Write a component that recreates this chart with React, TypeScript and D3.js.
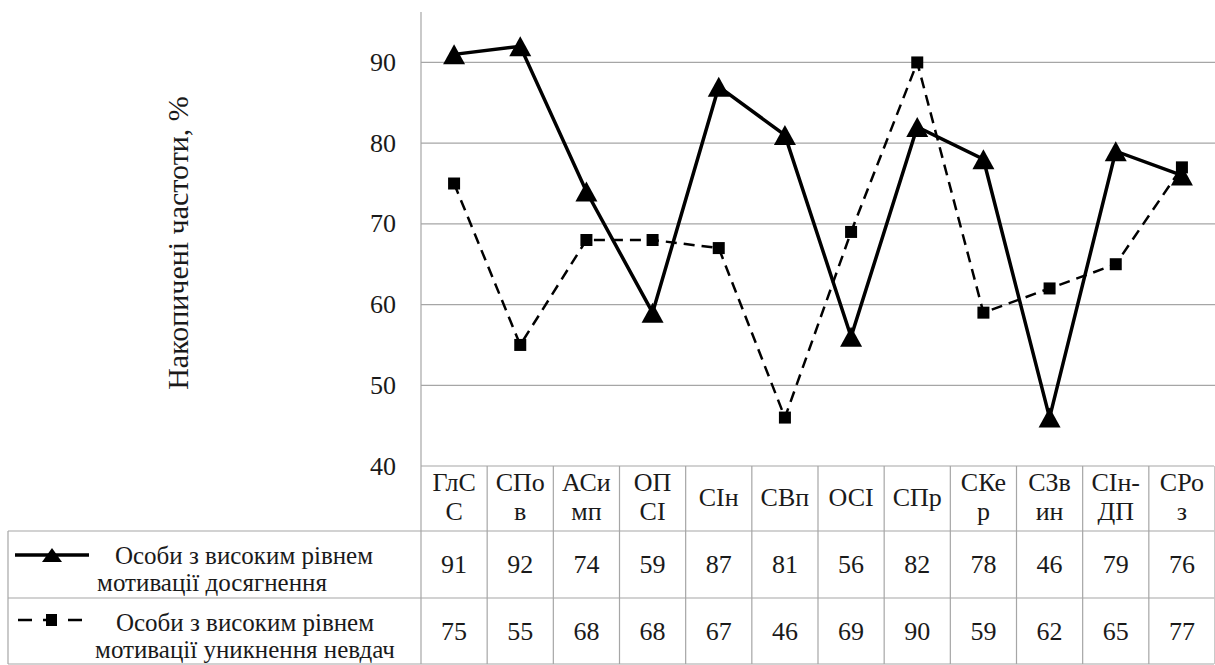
import React from "react";
import * as d3 from "d3";

const categories = ["ГлСС", "СПов", "АСимп", "ОПСІ", "СІн", "СВп", "ОСІ", "СПр", "СКер", "СЗвин", "СІн-ДП", "СРоз"];
const categoryLines = [["ГлС", "С"], ["СПо", "в"], ["АСи", "мп"], ["ОП", "СІ"], ["СІн"], ["СВп"], ["ОСІ"], ["СПр"], ["СКе", "р"], ["СЗв", "ин"], ["СІн-", "ДП"], ["СРо", "з"]];
const achievement = [91, 92, 74, 59, 87, 81, 56, 82, 78, 46, 79, 76];
const avoidance = [75, 55, 68, 68, 67, 46, 69, 90, 59, 62, 65, 77];
const yTicks = [40, 50, 60, 70, 80, 90];
const seriesNames = [
  ["Особи з високим рівнем", "мотивації досягнення"],
  ["Особи з високим рівнем", "мотивації уникнення невдач"],
];
const yTitle = "Накопичені частоти, %";

const W = 1215;
const H = 665;
const GRID = "#a6a6a6";
const TXT = "#1a1a1a";
const SERIF = "Liberation Serif";

function T(props: any) {
  const { size, children, ...rest } = props;
  return (
    <text {...rest} fill={TXT} fontSize={size} style={{ fontFamily: SERIF }}>
      {children}
    </text>
  );
}

export default function App() {
  const x = d3.scaleBand<string>().domain(categories).range([421, 1215]);
  const y = d3.scaleLinear().domain([40, 96.25]).range([466, 12]);
  const cx = (c: string) => (x(c) as number) + x.bandwidth() / 2;

  const line = d3
    .line<number>()
    .x((_, i) => cx(categories[i]))
    .y((d) => y(d));

  const tri = (w: number, h: number) => `M0,${-h / 2}L${w / 2},${h / 2}L${-w / 2},${h / 2}Z`;

  const tableTop = 466;
  const row1 = 531;
  const row2 = 598;
  const bottom = 664;
  const TS = 26;
  const LS = 25;

  return (
    <svg width={W} height={H} style={{ position: "absolute", left: 0, top: 0 }}>
      {yTicks.slice(1).map((t) => (
        <line key={t} x1={421} x2={1215} y1={y(t)} y2={y(t)} stroke={GRID} strokeWidth={1.2} />
      ))}
      <line x1={421} x2={421} y1={y(96.25)} y2={bottom} stroke={GRID} strokeWidth={1.2} />
      {yTicks.map((t) => (
        <T key={t} size={26} x={396} y={y(t) + 8.5} textAnchor="end">
          {t}
        </T>
      ))}
      <T size={30} transform={`translate(188,243) rotate(-90)`} textAnchor="middle">
        {yTitle}
      </T>

      <line x1={421} x2={1214} y1={tableTop} y2={tableTop} stroke={GRID} strokeWidth={1.2} />
      <line x1={8} x2={1214} y1={row1} y2={row1} stroke={GRID} strokeWidth={1.2} />
      <line x1={8} x2={1214} y1={row2} y2={row2} stroke={GRID} strokeWidth={1.2} />
      <line x1={8} x2={1214} y1={bottom} y2={bottom} stroke={GRID} strokeWidth={1.2} />
      <line x1={8} x2={8} y1={row1} y2={bottom} stroke={GRID} strokeWidth={1.2} />
      {categories.map((c) => (
        <line key={c} x1={(x(c) as number) + x.bandwidth()} x2={(x(c) as number) + x.bandwidth()} y1={tableTop} y2={bottom} stroke={GRID} strokeWidth={1.2} />
      ))}

      {categories.map((c, i) => {
        const lines = categoryLines[i];
        return lines.length === 1 ? (
          <T key={c} size={TS} x={cx(c)} y={506} textAnchor="middle">
            {lines[0]}
          </T>
        ) : (
          <g key={c}>
            <T size={TS} x={cx(c)} y={491} textAnchor="middle">
              {lines[0]}
            </T>
            <T size={TS} x={cx(c)} y={520} textAnchor="middle">
              {lines[1]}
            </T>
          </g>
        );
      })}
      {categories.map((c, i) => (
        <g key={c}>
          <T size={TS} x={cx(c)} y={573} textAnchor="middle">
            {achievement[i]}
          </T>
          <T size={TS} x={cx(c)} y={640} textAnchor="middle">
            {avoidance[i]}
          </T>
        </g>
      ))}

      <line x1={15} x2={89} y1={555} y2={555} stroke="#000" strokeWidth={3.5} />
      <path d={tri(20, 14)} transform="translate(52,555)" fill="#000" />
      <line x1={16} x2={88} y1={620} y2={620} stroke="#000" strokeWidth={2.5} strokeDasharray="14,11" strokeDashoffset={-2} />
      <rect x={46} y={614} width={11} height={12} fill="#000" />
      <T size={LS} x={244} y={564} textAnchor="middle">{seriesNames[0][0]}</T>
      <T size={LS} x={212} y={591} textAnchor="middle">{seriesNames[0][1]}</T>
      <T size={LS} x={245} y={631} textAnchor="middle">{seriesNames[1][0]}</T>
      <T size={LS} x={245} y={658} textAnchor="middle">{seriesNames[1][1]}</T>

      <path d={line(avoidance) as string} fill="none" stroke="#000" strokeWidth={2.5} strokeDasharray="11,7" />
      {avoidance.map((v, i) => (
        <rect key={i} x={cx(categories[i]) - 6} y={y(v) - 6} width={12} height={12} fill="#000" />
      ))}
      <path d={line(achievement) as string} fill="none" stroke="#000" strokeWidth={3.5} />
      {achievement.map((v, i) => (
        <path key={i} d={tri(22, 20)} transform={`translate(${cx(categories[i])},${y(v)})`} fill="#000" />
      ))}
    </svg>
  );
}
